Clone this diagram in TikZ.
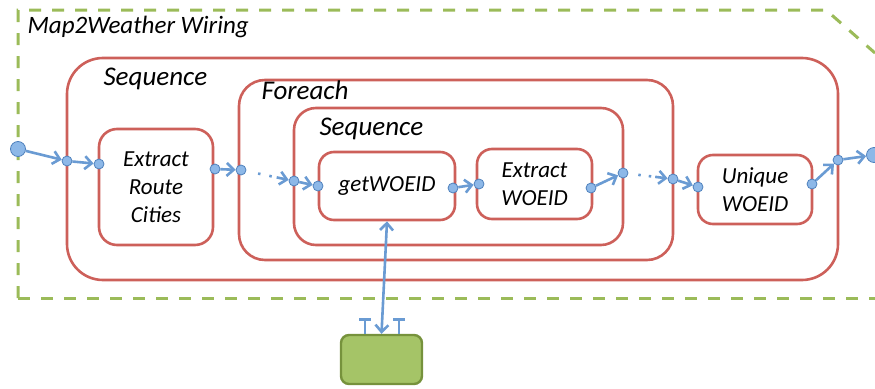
\documentclass[tikz,border=0pt]{standalone}
\usepackage{fontspec}
\setmainfont{Carlito}
\usetikzlibrary{arrows.meta}
\definecolor{boxred}{HTML}{CD605A}
\definecolor{framegreen}{HTML}{9BBB59}
\definecolor{boxgreen}{HTML}{A5C467}
\definecolor{edgegreen}{HTML}{76923C}
\definecolor{wireblue}{HTML}{6A9BD3}
\definecolor{portblue}{HTML}{8DB8E8}
\definecolor{portedge}{HTML}{4F81BD}
\tikzset{
  block/.style={draw=boxred, line width=2.6pt, rounded corners=#1, inner sep=0pt, align=center},
  frame/.style={draw=framegreen, line width=3pt, dash pattern=on 12pt off 11pt},
  wire/.style={draw=wireblue, line width=2.6pt, -{Straight Barb[length=7pt, width=13pt]}},
  port/.style={circle, draw=portedge, fill=portblue, line width=0.8pt, minimum size=10pt, inner sep=0pt},
  bigport/.style={port, minimum size=15pt},
  lbl/.style={font=\itshape\fontsize{27}{30}\selectfont}
}
\begin{document}
\begin{tikzpicture}[x=1pt, y=-1pt, every node/.style={font=\itshape\fontsize{23}{28}\selectfont}]
    \useasboundingbox (0,0) rectangle (875,388);
    % the wiring frame
    \draw[frame] (18,298) -- (18,10) -- (826,10) -- (875,53);
    \draw[frame] (18,298) -- (875,298);
    \node[lbl, font=\itshape\fontsize{25}{30}\selectfont, anchor=base west] (title) at (24,33) {Map2Weather Wiring};

    % containers
    \node[block=36pt, minimum width=771pt, minimum height=222pt] (seqA) at (452.5,169) {};
    \node[block=26pt, minimum width=434pt, minimum height=180pt] (each) at (456,170) {};
    \node[block=22pt, minimum width=329pt, minimum height=137pt] (seqB) at (458.5,176.5) {};
    \node[lbl, anchor=base west] (seqAlbl) at (100,85) {Sequence};
    \node[lbl, anchor=base west] (eachlbl) at (258,99) {Foreach};
    \node[lbl, anchor=base west] (seqBlbl) at (316,135) {Sequence};

    % tasks
    \node[block=18pt, minimum width=114pt, minimum height=116pt] (route) at (156,187) {Extract\\Route\\Cities};
    \node[block=15pt, minimum width=136pt, minimum height=68pt] (getw) at (387,186) {getWOEID};
    \node[block=15pt, minimum width=115pt, minimum height=70pt] (exw) at (534.5,184) {Extract\\WOEID};
    \node[block=15pt, minimum width=114pt, minimum height=69pt] (uniq) at (755,189.5) {Unique\\WOEID};
    \node[draw=edgegreen, fill=boxgreen, line width=2.4pt, rounded corners=8pt,
          minimum width=81pt, minimum height=49pt] (svc) at (381.5,359.5) {};

    % service link
    \draw[wire, {Straight Barb[length=7pt, width=13pt]}-{Straight Barb[length=7pt, width=13pt]}] (getw.south) -- (svc.north);
    \foreach \t/\x in {a/365, b/399}{
        \coordinate (tee\t) at (\x,318);
        \draw[wire, -{Bar[width=12pt]}] (svc.north -| tee\t) -- (tee\t);
    }

    % ports
    \node[bigport] (p0) at (18,149) {};
    \node[bigport] (p15) at (874,155) {};
    \foreach \n/\x/\y in {1/67/161, 2/99/164, 3/215/169, 4/241/170, 5/294/181, 6/318/186,
                          7/453/188, 8/479/184, 9/591/188, 10/623/173, 11/673/179,
                          12/698/187, 13/812/184, 14/838/160}
        \node[port] (p\n) at (\x,\y) {};

    % wires
    \foreach \a/\b in {0/1, 1/2, 3/4, 5/6, 7/8, 9/10, 11/12, 13/14, 14/15}
        \draw[wire] (p\a) -- (p\b);
    \draw[wire, dash pattern=on 0pt off 12pt on 2.5pt off 9pt on 2.5pt off 5pt on 40pt] (p4) -- (p5);
    \draw[wire, dash pattern=on 0pt off 10pt on 2.5pt off 8pt on 2.5pt off 4pt on 40pt] (p10) -- (p11);
\end{tikzpicture}
\end{document}
